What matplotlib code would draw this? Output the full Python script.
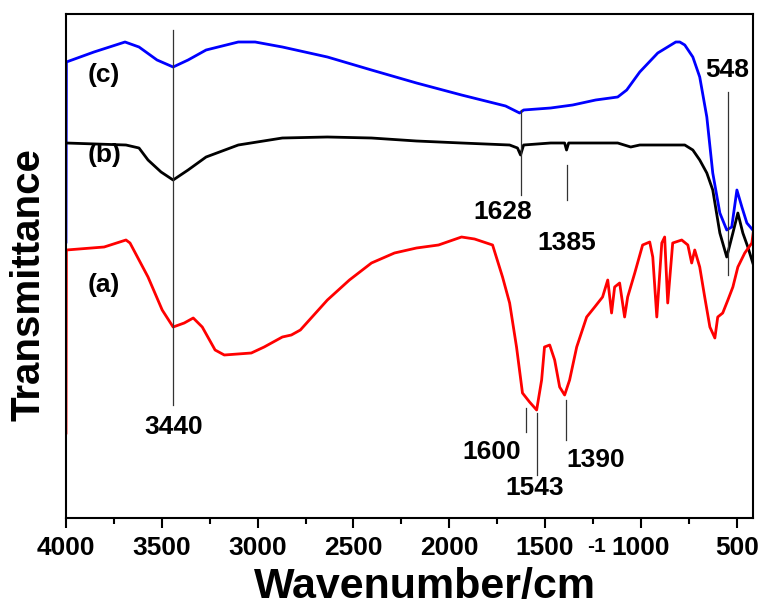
import numpy as np
import matplotlib
matplotlib.use("Agg")
import matplotlib.pyplot as plt
from matplotlib.ticker import MultipleLocator

plt.rcParams['font.family'] = ['Liberation Sans', 'DejaVu Sans']
plt.rcParams['font.weight'] = 'bold'

# spectrum (c) - blue
wn_c = [4000, 3998, 3854, 3692, 3619, 3525, 3441, 3363, 3269, 3101, 3013, 2871,
        2636, 2406, 2171, 1936, 1706, 1633, 1612, 1471, 1356, 1236, 1121, 1074,
        1006, 912, 818, 797, 771, 729, 693, 656, 625, 588, 552, 526, 499, 473,
        447, 416]
t_c = [27.6, 45.6, 46.6, 47.6, 47.1, 45.8, 45.1, 45.8, 46.8, 47.6, 47.6, 47.1,
       46.1, 44.8, 43.5, 42.3, 41.2, 40.5, 40.8, 41.0, 41.3, 41.8, 42.1, 42.8,
       44.6, 46.5, 47.6, 47.6, 47.3, 46.1, 44.1, 40.1, 34.5, 30.5, 28.8, 29.1,
       32.8, 31.1, 29.5, 28.8]

# spectrum (b) - black
wn_b = [4000, 3687, 3619, 3572, 3504, 3441, 3363, 3269, 3101, 2871, 2636, 2406,
        2171, 1936, 1685, 1644, 1628, 1612, 1471, 1398, 1388, 1377, 1121, 1053,
        1006, 771, 729, 693, 656, 625, 588, 552, 520, 494, 468, 442, 416]
t_b = [37.5, 37.3, 37.0, 35.8, 34.6, 33.8, 34.8, 36.1, 37.3, 38.0, 38.1, 38.0,
       37.7, 37.5, 37.3, 37.0, 36.3, 37.3, 37.5, 37.5, 36.8, 37.5, 37.5, 37.1,
       37.3, 37.3, 36.8, 35.8, 34.5, 32.8, 28.5, 26.1, 28.5, 30.5, 28.5, 27.1,
       25.5]

# spectrum (a) - red
wn_a = [4000, 3998, 3801, 3687, 3666, 3572, 3498, 3441, 3383, 3336, 3289, 3222,
        3174, 3033, 2966, 2871, 2824, 2777, 2636, 2521, 2406, 2286, 2171, 2056,
        1936, 1868, 1774, 1722, 1685, 1649, 1618, 1581, 1544, 1518, 1503, 1476,
        1450, 1424, 1398, 1372, 1335, 1283, 1241, 1200, 1173, 1153, 1137, 1111,
        1085, 1069, 1032, 991, 954, 938, 917, 891, 876, 860, 834, 787, 755, 735,
        719, 693, 667, 640, 614, 599, 573, 546, 520, 494, 458, 421, 405]
t_a = [8.5, 26.8, 27.1, 27.8, 27.5, 24.1, 20.8, 19.1, 19.5, 20.0, 19.1, 16.8,
       16.3, 16.5, 17.1, 18.1, 18.3, 18.8, 21.8, 23.8, 25.5, 26.5, 27.0, 27.3,
       28.1, 27.9, 27.3, 24.1, 21.5, 17.1, 12.5, 11.6, 10.8, 13.8, 17.1, 17.3,
       15.8, 13.1, 12.3, 13.8, 17.1, 20.1, 21.1, 22.1, 23.8, 20.5, 23.1, 23.5,
       20.1, 22.1, 24.5, 27.3, 27.6, 26.1, 20.1, 27.5, 28.1, 21.5, 27.5, 27.8,
       27.3, 25.5, 26.8, 25.1, 22.1, 19.1, 18.0, 20.1, 20.5, 21.8, 23.1, 25.1,
       26.5, 27.5, 29.8]

# peak markers: position, line from/to, label text position
peak_labels = ['3440', '1628', '1385', '548', '1600', '1543', '1390']
peak_x = [3440, 1628, 1385, 548, 1600, 1543, 1390]
peak_y0 = [11.3, 32.3, 31.8, 24.3, 8.6, 4.3, 7.8]
peak_y1 = [48.8, 40.8, 35.3, 42.6, 11.0, 10.5, 11.8]
label_x = [3440, 1722, 1388, 552, 1780, 1555, 1236]
label_y = [9.1, 30.6, 27.5, 44.8, 6.6, 3.0, 5.8]

curve_names = ['(c)', '(b)', '(a)']
curve_name_y = [44.3, 36.3, 23.3]

fig = plt.figure(figsize=(7.59, 6.06), dpi=100)
ax = fig.add_axes([66/759, 1-518/606, 687/759, 504/606])

ax.plot(wn_c, t_c, color='#0000ff', lw=2.0)
ax.plot(wn_b, t_b, color='black', lw=2.0)
ax.plot(wn_a, t_a, color='#ff0000', lw=2.0)

for i in range(len(peak_x)):
    ax.plot([peak_x[i], peak_x[i]], [peak_y0[i], peak_y1[i]], color='#333333', lw=0.9)
    ax.text(label_x[i], label_y[i], peak_labels[i], ha='center', va='center',
            fontsize=19, fontweight='bold')

for name, y in zip(curve_names, curve_name_y):
    ax.text(3801, y, name, ha='center', va='center', fontsize=19, fontweight='bold')

ax.set_xlim(4000, 415)
ax.set_ylim(0, 50.4)
ax.xaxis.set_major_locator(MultipleLocator(500))
ax.xaxis.set_minor_locator(MultipleLocator(250))
ax.set_yticks([])
ax.tick_params(axis='x', which='major', direction='out', length=7.5, width=1.5,
               labelsize=19, pad=5.5, top=False)
ax.tick_params(axis='x', which='minor', direction='out', length=4, width=1.5, top=False)
for lab in ax.get_xticklabels():
    lab.set_fontweight('bold')
for s in ax.spines.values():
    s.set_linewidth(1.5)

ax.set_xlabel('Wavenumber/cm', fontsize=31, fontweight='bold', va='baseline')
ax.xaxis.set_label_coords(0.522, -0.159)
# raised superscript of the unit
ax.text(0.772, -0.056, '-1', transform=ax.transAxes, ha='center', va='center',
        fontsize=15, fontweight='bold')
ax.set_ylabel('Transmittance', fontsize=29, fontweight='bold', va='center')
ax.yaxis.set_label_coords(-0.055, 0.464)

plt.savefig('out.png', dpi=100)
